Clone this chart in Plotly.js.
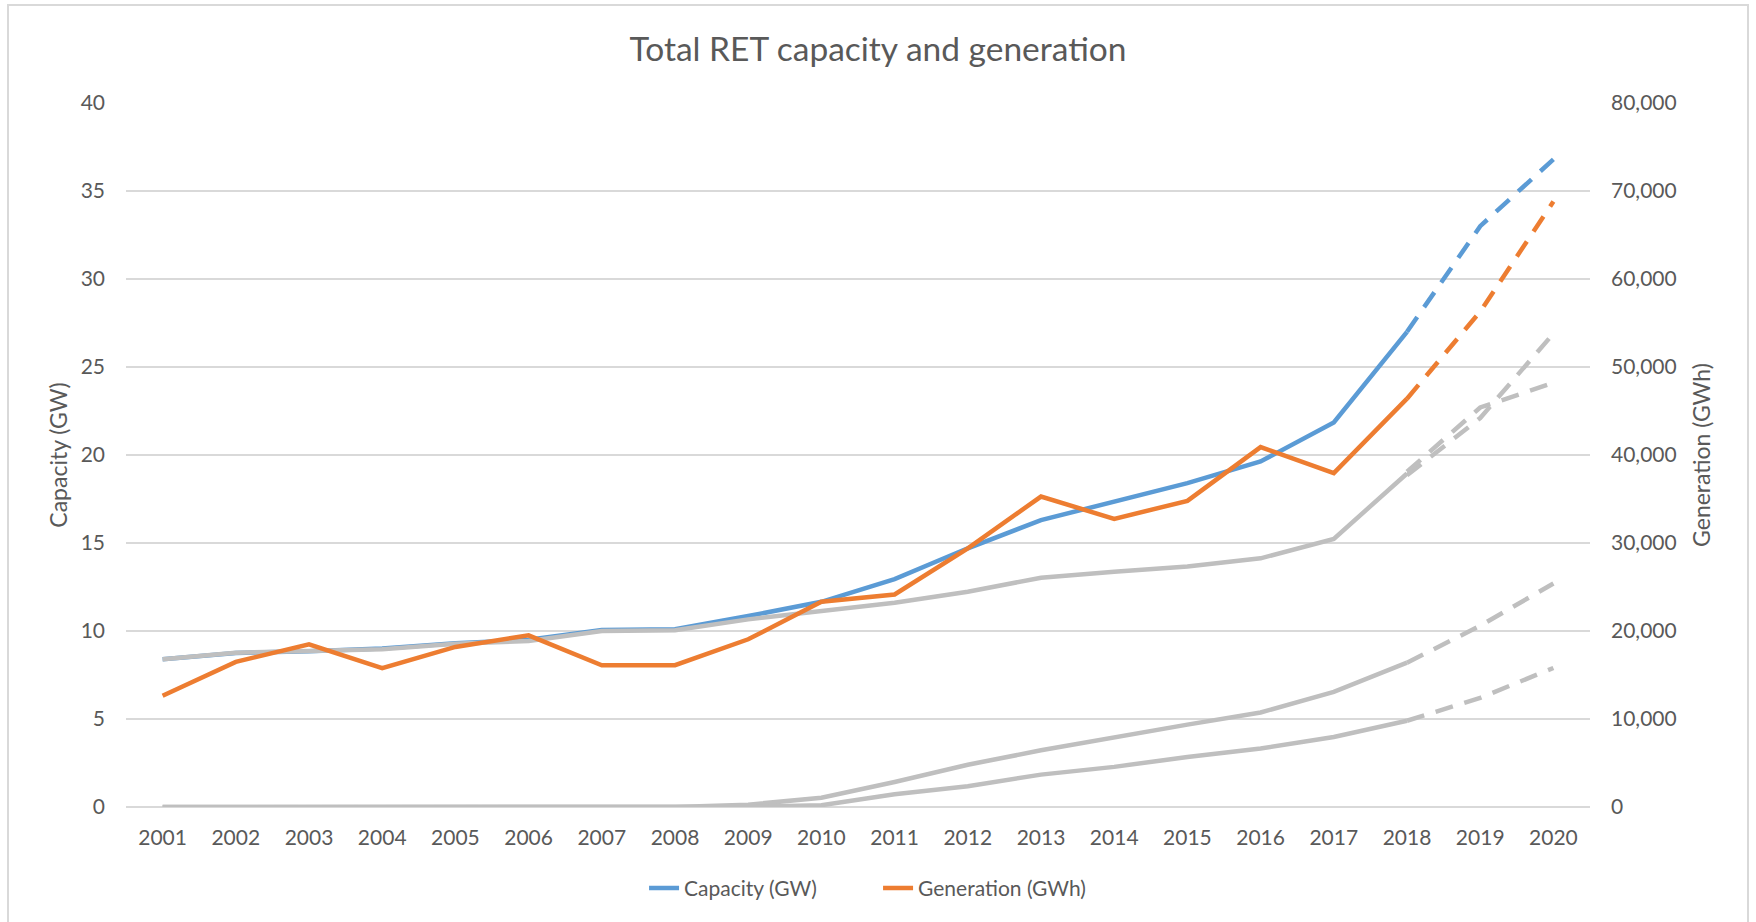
<!DOCTYPE html>
<html>
<head>
<meta charset="utf-8">
<script src="https://cdn.plot.ly/plotly-3.0.1.min.js"></script>
<style>
  html, body { margin: 0; padding: 0; background: #ffffff; }
  #chart { position: absolute; left: 0; top: 0; width: 1756px; height: 922px; }
  #frame { position: absolute; left: 7px; top: 4px; width: 1742px; height: 940px;
           border: 2px solid #D9D9D9; box-sizing: border-box; pointer-events: none; }
</style>
</head>
<body>
<div id="chart"></div>
<div id="frame"></div>
<script>
// Categories
const years = ['2001','2002','2003','2004','2005','2006','2007','2008','2009','2010',
               '2011','2012','2013','2014','2015','2016','2017','2018','2019','2020'];

// Capacity (GW) actual 2001-2018, projection 2018-2020
const capacityActual = [8.4, 8.75, 8.85, 9.0, 9.3, 9.5, 10.05, 10.1, 10.85, 11.66,
                        12.95, 14.7, 16.3, 17.35, 18.4, 19.63, 21.85, 27.0, null, null];
const capacityProj   = [null, null, null, null, null, null, null, null, null, null,
                        null, null, null, null, null, null, null, 27.0, 33.0, 36.8];

// Generation (GWh) actual 2001-2018, projection 2018-2020
const generationActual = [12640, 16490, 18490, 15770, 18190, 19510, 16110, 16110, 19060, 23320,
                          24150, 29400, 35280, 32740, 34790, 40900, 37950, 46400, null, null];
const generationProj   = [null, null, null, null, null, null, null, null, null, null,
                          null, null, null, null, null, null, null, 46400, 56300, 68800];

// Unlabelled grey series (GW)
const greyA  = [8.4, 8.77, 8.87, 8.96, 9.28, 9.43, 10.0, 10.04, 10.66, 11.1,
                11.6, 12.23, 13.03, 13.37, 13.66, 14.13, 15.23, 18.95, null, null];
const greyA1 = [null, null, null, null, null, null, null, null, null, null,
                null, null, null, null, null, null, null, 18.85, 22.1, 26.9];
const greyA2 = [null, null, null, null, null, null, null, null, null, null,
                null, null, null, null, null, null, null, 19.05, 22.7, 24.1];
const greyB  = [0, 0, 0, 0, 0, 0, 0, 0, 0.13, 0.53,
                1.42, 2.4, 3.22, 3.98, 4.68, 5.37, 6.54, 8.2, null, null];
const greyBp = [null, null, null, null, null, null, null, null, null, null,
                null, null, null, null, null, null, null, 8.2, 10.3, 12.7];
const greyC  = [0, 0, 0, 0, 0, 0, 0, 0, 0.02, 0.1,
                0.72, 1.18, 1.84, 2.28, 2.84, 3.32, 3.98, 4.9, null, null];
const greyCp = [null, null, null, null, null, null, null, null, null, null,
                null, null, null, null, null, null, null, 4.9, 6.2, 7.9];

const leftTicks = [0, 5, 10, 15, 20, 25, 30, 35, 40];
const rightTicks = [0, 10000, 20000, 30000, 40000, 50000, 60000, 70000, 80000];

const BLUE = '#5B9BD5', ORANGE = '#ED7D31', GREY = '#BFBFBF', TXT = '#595959', GRID = '#D9D9D9';
const LW = 4.5, DASH = '18px,12px';

function tr(y, color, opts) {
  return Object.assign({
    x: years, y: y, type: 'scatter', mode: 'lines',
    line: { color: color, width: LW }, connectgaps: false,
    showlegend: false, hoverinfo: 'skip'
  }, opts || {});
}

const data = [
  tr(capacityActual, BLUE, { name: 'Capacity (GW)', showlegend: true, legendrank: 1 }),
  tr(capacityProj, BLUE, { line: { color: BLUE, width: LW, dash: DASH } }),
  tr(greyA, GREY),
  tr(greyA1, GREY, { line: { color: GREY, width: LW, dash: DASH } }),
  tr(greyA2, GREY, { line: { color: GREY, width: LW, dash: DASH } }),
  tr(greyB, GREY),
  tr(greyBp, GREY, { line: { color: GREY, width: LW, dash: DASH } }),
  tr(greyC, GREY),
  tr(greyCp, GREY, { line: { color: GREY, width: LW, dash: DASH } }),
  tr(generationActual, ORANGE, { name: 'Generation (GWh)', showlegend: true, legendrank: 2, yaxis: 'y2' }),
  tr(generationProj, ORANGE, { line: { color: ORANGE, width: LW, dash: DASH }, yaxis: 'y2' })
];

const FONT = 'Lato, "Open Sans", sans-serif';

const layout = {
  width: 1756, height: 922,
  paper_bgcolor: '#ffffff', plot_bgcolor: '#ffffff',
  margin: { l: 126, r: 166, t: 103, b: 115, pad: 0 },
  font: { family: FONT, color: TXT, size: 21 },
  title: {
    text: 'Total RET capacity and generation',
    font: { family: FONT, size: 33.5, color: TXT },
    x: 0.5, xref: 'container', xanchor: 'center',
    y: 1 - 49 / 922, yref: 'container', yanchor: 'middle'
  },
  xaxis: {
    type: 'category', categoryorder: 'array', categoryarray: years,
    range: [-0.5, years.length - 0.5],
    showgrid: false, showline: false, zeroline: false, ticks: '',
    tickfont: { family: FONT, size: 21, color: TXT },
    ticklabelstandoff: 16, fixedrange: true
  },
  yaxis: {
    range: [0, 40], tickvals: leftTicks, ticktext: leftTicks.map(String),
    showgrid: true, gridcolor: GRID, gridwidth: 2,
    zeroline: true, zerolinecolor: GRID, zerolinewidth: 2,
    showline: false, ticks: '',
    tickfont: { family: FONT, size: 21, color: TXT },
    ticklabelstandoff: 20,
    title: { text: 'Capacity (GW)', font: { family: FONT, size: 23, color: TXT }, standoff: 6 }
  },
  yaxis2: {
    overlaying: 'y', side: 'right',
    range: [0, 80000], tickvals: rightTicks,
    ticktext: rightTicks.map(v => v.toLocaleString('en-US')),
    showgrid: false, zeroline: false, showline: false, ticks: '',
    tickfont: { family: FONT, size: 21, color: TXT },
    ticklabelstandoff: 20,
    title: { text: 'Generation (GWh)', font: { family: FONT, size: 23, color: TXT }, standoff: 18 }
  },
  legend: {
    orientation: 'h', x: 0.5137, xanchor: 'center',
    y: (806.7 - 888) / 704, yanchor: 'middle',
    entrywidth: 189, entrywidthmode: 'pixels',
    font: { family: FONT, size: 21, color: TXT },
    bgcolor: 'rgba(0,0,0,0)'
  },
  showlegend: true
};

Plotly.newPlot('chart', data, layout, { staticPlot: true, displayModeBar: false });
</script>
</body>
</html>
